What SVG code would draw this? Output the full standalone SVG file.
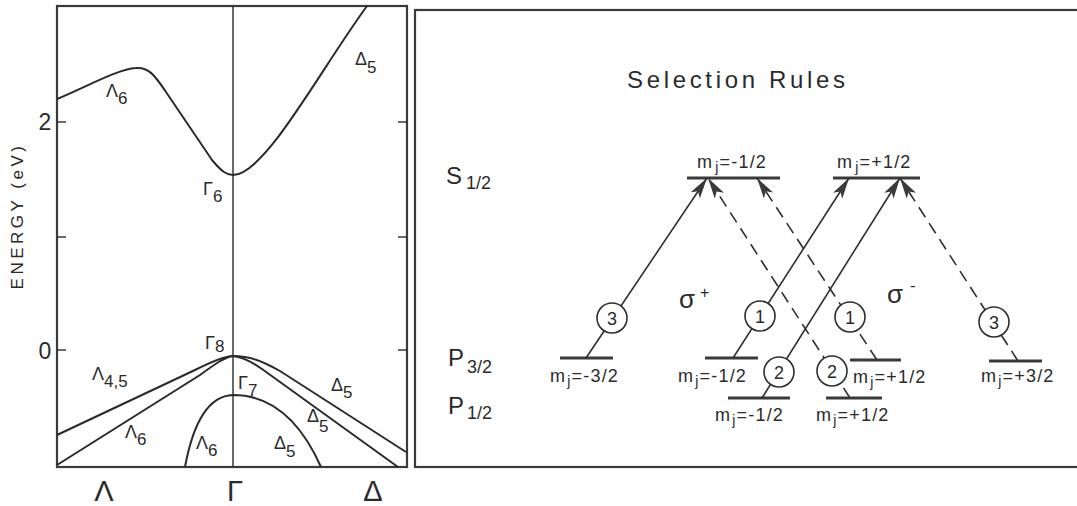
<svg xmlns="http://www.w3.org/2000/svg" width="1077" height="506" viewBox="0 0 1077 506">
<style>
.frame{fill:none;stroke:#3a3a3a;stroke-width:2.2}
.curve{fill:none;stroke:#2a2a2a;stroke-width:2}
.thin{fill:none;stroke:#2a2a2a;stroke-width:1.4}
.lvl{stroke:#3a3a3a;stroke-width:3.2}
.tr{fill:none;stroke:#2e2e2e;stroke-width:1.6}
.dash{stroke-dasharray:12 7}
.circ{fill:#fff;stroke:#2e2e2e;stroke-width:1.6}
text{font-family:"Liberation Sans","DejaVu Sans",sans-serif;fill:#2a2a2a}
.g{font-size:18px}
.s{font-size:17px}
.m{font-size:18px;letter-spacing:1.2px}
.mj{font-size:14px}
.n{font-size:18px;text-anchor:middle}
</style>
<defs>
<marker id="ah" markerUnits="userSpaceOnUse" markerWidth="24" markerHeight="12" refX="21" refY="5.5" orient="auto">
<path d="M0,0 L21,5.5 L0,11 L5,5.5 Z" fill="#3a3a3a"/>
</marker>
</defs>
<rect width="1077" height="506" fill="#fff"/>

<g id="band-structure">
<rect class="frame" x="57" y="6" width="350" height="461"/>
<line class="thin" x1="233" y1="6" x2="233" y2="467"/>
<g class="thin">
<line x1="57" y1="122" x2="66" y2="122"/><line x1="57" y1="237" x2="66" y2="237"/><line x1="57" y1="350" x2="66" y2="350"/>
<line x1="398" y1="122" x2="407" y2="122"/><line x1="398" y1="237" x2="407" y2="237"/><line x1="398" y1="350" x2="407" y2="350"/>
</g>
<path class="curve" d="M57,99 C88,86 118,69 136,68 C148,67 154,74 166,92 L212,160 C222,172 227,175 233,175 C265,175 320,70 367,6"/>
<path class="curve" d="M57,435 L195,370 C215,360 225,356 233,356"/>
<path class="curve" d="M57,465 L200,375 C215,364 225,357 233,356"/>
<path class="curve" d="M233,356 C250,356 262,361 280,371 L406,452"/>
<path class="curve" d="M233,356 C243,357 252,362 262,369 L398,467"/>
<path class="curve" d="M185,467 C190,440 202,396 233,395 C270,395 300,420 321,467"/>
<text x="45" y="130" font-size="23" text-anchor="middle">2</text>
<text x="45" y="359" font-size="23" text-anchor="middle">0</text>
<text transform="translate(23,216) rotate(-90)" font-size="17" text-anchor="middle" letter-spacing="3.5">ENERGY (eV)</text>
<text x="104" y="501" font-size="29" text-anchor="middle">Λ</text>
<text x="235" y="501" font-size="29" text-anchor="middle">Γ</text>
<text x="373" y="501" font-size="29" text-anchor="middle">Δ</text>
<text class="g" x="106" y="97">Λ<tspan class="s" dy="7">6</tspan></text>
<text class="g" x="203" y="195">Γ<tspan class="s" dy="7">6</tspan></text>
<text class="g" x="355" y="65">Δ<tspan class="s" dy="8">5</tspan></text>
<text class="g" x="205" y="349">Γ<tspan class="s" dy="3">8</tspan></text>
<text class="g" x="92" y="380">Λ<tspan class="s" dy="7">4,5</tspan></text>
<text class="g" x="238" y="389">Γ<tspan class="s" dy="7">7</tspan></text>
<text class="g" x="331" y="391">Δ<tspan class="s" dy="7">5</tspan></text>
<text class="g" x="307" y="422">Δ<tspan class="s" dy="10">5</tspan></text>
<text class="g" x="125" y="438">Λ<tspan class="s" dy="7">6</tspan></text>
<text class="g" x="196" y="449">Λ<tspan class="s" dy="7">6</tspan></text>
<text class="g" x="274" y="449">Δ<tspan class="s" dy="8">5</tspan></text>
</g>

<g id="selection-rules-panel">
<rect class="frame" x="415" y="10" width="700" height="457"/>
<text x="627" y="88" font-size="24" textLength="218" lengthAdjust="spacing">Selection Rules</text>
<text x="446" y="184" font-size="24">S<tspan font-size="18" dx="4" dy="5">1/2</tspan></text>
<text x="448" y="366" font-size="24">P<tspan font-size="18" dx="3" dy="7">3/2</tspan></text>
<text x="448" y="414" font-size="24">P<tspan font-size="18" dx="3" dy="5">1/2</tspan></text>
<text x="679" y="308" font-size="26">σ</text><text x="700" y="298" font-size="16">+</text>
<text x="887" y="303" font-size="26">σ</text><text x="910" y="291" font-size="17">-</text>
</g>

<g id="level-S-minus">
<line class="lvl" x1="687" y1="178" x2="780" y2="178"/>
<text class="m" x="697" y="168">m<tspan class="mj" dx="2" dy="4">j</tspan><tspan dy="-4">=-1/2</tspan></text>
</g>
<g id="level-S-plus">
<line class="lvl" x1="833" y1="178" x2="920" y2="178"/>
<text class="m" x="837" y="168">m<tspan class="mj" dx="2" dy="4">j</tspan><tspan dy="-4">=+1/2</tspan></text>
</g>
<g id="level-P32-m32">
<line class="lvl" x1="560" y1="358" x2="613" y2="358"/>
<text class="m" x="550" y="382">m<tspan class="mj" dx="1" dy="4">j</tspan><tspan dy="-4">=-3/2</tspan></text>
</g>
<g id="level-P32-m12">
<line class="lvl" x1="705" y1="358" x2="758" y2="358"/>
<text class="m" x="678" y="382">m<tspan class="mj" dx="1" dy="4">j</tspan><tspan dy="-4">=-1/2</tspan></text>
</g>
<g id="level-P32-p12">
<line class="lvl" x1="850" y1="360" x2="901" y2="360"/>
<text class="m" x="853" y="383">m<tspan class="mj" dx="1" dy="4">j</tspan><tspan dy="-4">=+1/2</tspan></text>
</g>
<g id="level-P32-p32">
<line class="lvl" x1="989" y1="361" x2="1042" y2="361"/>
<text class="m" x="981" y="382">m<tspan class="mj" dx="1" dy="4">j</tspan><tspan dy="-4">=+3/2</tspan></text>
</g>
<g id="level-P12-m12">
<line class="lvl" x1="728" y1="398" x2="790" y2="398"/>
<text class="m" x="715" y="421">m<tspan class="mj" dx="1" dy="4">j</tspan><tspan dy="-4">=-1/2</tspan></text>
</g>
<g id="level-P12-p12">
<line class="lvl" x1="826" y1="398" x2="882" y2="398"/>
<text class="m" x="816" y="421">m<tspan class="mj" dx="1" dy="4">j</tspan><tspan dy="-4">=+1/2</tspan></text>
</g>

<g id="connectors">
<line class="tr" x1="586" y1="358" x2="707" y2="178" marker-end="url(#ah)"/>
<line class="tr" x1="733" y1="358" x2="849" y2="178" marker-end="url(#ah)"/>
<line class="tr" x1="762" y1="398" x2="900" y2="178" marker-end="url(#ah)"/>
<line class="tr dash" x1="877" y1="360" x2="757" y2="178" marker-end="url(#ah)"/>
<line class="tr dash" x1="850" y1="398" x2="708" y2="178" marker-end="url(#ah)"/>
<line class="tr dash" x1="1018" y1="361" x2="900" y2="178" marker-end="url(#ah)"/>
</g>

<g id="weights">
<g id="w-3-left"><circle class="circ" cx="612" cy="318" r="15"/><text class="n" x="612" y="324.5">3</text></g>
<g id="w-1-solid"><circle class="circ" cx="760" cy="316" r="15"/><text class="n" x="760" y="322.5">1</text></g>
<g id="w-2-solid"><circle class="circ" cx="779" cy="372" r="15"/><text class="n" x="779" y="378.5">2</text></g>
<g id="w-1-dash"><circle class="circ" cx="850" cy="317" r="15"/><text class="n" x="850" y="323.5">1</text></g>
<g id="w-2-dash"><circle class="circ" cx="832" cy="371" r="15"/><text class="n" x="832" y="377.5">2</text></g>
<g id="w-3-right"><circle class="circ" cx="994" cy="322" r="15"/><text class="n" x="994" y="328.5">3</text></g>
</g>
</svg>
